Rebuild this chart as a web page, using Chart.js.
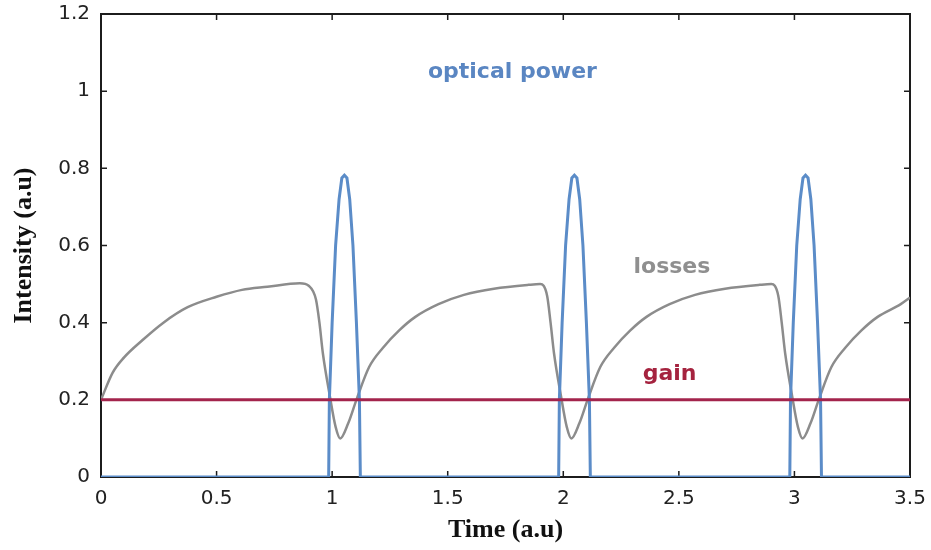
<!DOCTYPE html>
<html>
<head>
<meta charset="utf-8">
<script src="https://cdn.jsdelivr.net/npm/chart.js@4/dist/chart.umd.min.js"></script>
<style>
  html, body { margin: 0; padding: 0; background: #fff; }
  #wrap { width: 931px; height: 550px; }
</style>
</head>
<body>
<div id="wrap"><canvas id="pulses" width="931" height="550"></canvas></div>
<script>
// axis ticks
var timeTicks = [0, 0.5, 1, 1.5, 2, 2.5, 3, 3.5];
var intensityTicks = [0, 0.2, 0.4, 0.6, 0.8, 1, 1.2];

// saturable losses
var lossTime = [0, 0.05, 0.1, 0.18, 0.27, 0.375, 0.5, 0.61, 0.72, 0.86, 0.9, 0.93, 0.945, 0.96, 0.99, 1.015, 1.035, 1.07, 1.105,
    1.16, 1.22, 1.29, 1.36, 1.46, 1.57, 1.7, 1.85, 1.9, 1.93, 1.945, 1.96, 1.99, 2.015, 2.035, 2.07, 2.105,
    2.16, 2.22, 2.29, 2.36, 2.46, 2.57, 2.7, 2.85, 2.9, 2.93, 2.945, 2.96, 2.99, 3.015, 3.035, 3.07, 3.105,
    3.16, 3.22, 3.29, 3.36, 3.46, 3.5];
var lossValues = [0.2, 0.27, 0.31, 0.355, 0.4, 0.44, 0.467, 0.485, 0.493, 0.502, 0.495, 0.46, 0.4, 0.32, 0.21, 0.13, 0.1, 0.14, 0.2,
    0.285, 0.335, 0.38, 0.415, 0.448, 0.472, 0.488, 0.498, 0.5, 0.47, 0.4, 0.32, 0.21, 0.13, 0.1, 0.14, 0.2,
    0.285, 0.335, 0.38, 0.415, 0.448, 0.472, 0.488, 0.498, 0.5, 0.47, 0.4, 0.32, 0.21, 0.13, 0.1, 0.14, 0.2,
    0.285, 0.335, 0.38, 0.415, 0.448, 0.465];

// optical power, three pulses
var powerTime = [0,
    0.985, 0.988, 1.0, 1.015, 1.03, 1.042, 1.053, 1.064, 1.076, 1.09, 1.105, 1.118, 1.122,
    1.98, 1.983, 1.995, 2.01, 2.025, 2.037, 2.048, 2.059, 2.071, 2.085, 2.1, 2.113, 2.117,
    2.98, 2.983, 2.995, 3.01, 3.025, 3.037, 3.048, 3.059, 3.071, 3.085, 3.1, 3.113, 3.117,
    3.5];
var powerValues = [0,
    0, 0.2, 0.4, 0.6, 0.72, 0.775, 0.782, 0.775, 0.72, 0.6, 0.4, 0.2, 0,
    0, 0.2, 0.4, 0.6, 0.72, 0.775, 0.782, 0.775, 0.72, 0.6, 0.4, 0.2, 0,
    0, 0.2, 0.4, 0.6, 0.72, 0.775, 0.782, 0.775, 0.72, 0.6, 0.4, 0.2, 0,
    0];

// gain
var gainTime = [0, 3.5];
var gainValues = [0.2, 0.2];

function toPoints(xs, ys) {
    return xs.map(function (x, i) { return { x: x, y: ys[i] }; });
}

var BLUE = '#5b8cc8';
var GREY = '#8c8c8c';
var RED = '#a3244c';

// box around the plot with inward ticks on all four sides
var frame = {
    id: 'frame',
    beforeDatasetsDraw: function (chart) {
        var a = chart.chartArea, ctx = chart.ctx;
        var xs = chart.scales.x, ys = chart.scales.y;
        ctx.save();
        ctx.strokeStyle = '#1c1c1c';
        ctx.lineWidth = 2;
        ctx.strokeRect(a.left, a.top, a.right - a.left, a.bottom - a.top);
        ctx.lineWidth = 1.5;
        ctx.beginPath();
        timeTicks.forEach(function (t) {
            var px = xs.getPixelForValue(t);
            ctx.moveTo(px, a.bottom); ctx.lineTo(px, a.bottom - 6);
            ctx.moveTo(px, a.top); ctx.lineTo(px, a.top + 6);
        });
        intensityTicks.forEach(function (v) {
            var py = ys.getPixelForValue(v);
            ctx.moveTo(a.left, py); ctx.lineTo(a.left + 6, py);
            ctx.moveTo(a.right, py); ctx.lineTo(a.right - 6, py);
        });
        ctx.stroke();
        ctx.restore();
    },
    afterDatasetsDraw: function (chart) {
        var ctx = chart.ctx;
        var xs = chart.scales.x, ys = chart.scales.y;
        var notes = [
            { text: 'optical power', x: 1.78, y: 1.05, color: '#5a86c2' },
            { text: 'losses', x: 2.47, y: 0.544, color: '#8f8f8f' },
            { text: 'gain', x: 2.46, y: 0.265, color: '#a5233f' }
        ];
        ctx.save();
        ctx.font = 'bold 22px "DejaVu Sans"';
        ctx.textAlign = 'center';
        ctx.textBaseline = 'middle';
        notes.forEach(function (n) {
            ctx.fillStyle = n.color;
            ctx.fillText(n.text, xs.getPixelForValue(n.x), ys.getPixelForValue(n.y));
        });
        ctx.restore();
    }
};

function plainLabel(v) { return String(v); }

var chart = new Chart(document.getElementById('pulses'), {
    type: 'line',
    data: {
        datasets: [{
            label: 'gain',
            data: toPoints(gainTime, gainValues),
            borderColor: RED,
            borderWidth: 3,
            pointRadius: 0
        }, {
            label: 'optical power',
            data: toPoints(powerTime, powerValues),
            borderColor: BLUE,
            borderWidth: 3,
            pointRadius: 0,
            tension: 0
        }, {
            label: 'losses',
            data: toPoints(lossTime, lossValues),
            borderColor: GREY,
            borderWidth: 2.5,
            pointRadius: 0,
            cubicInterpolationMode: 'monotone'
        }]
    },
    options: {
        responsive: false,
        animation: false,
        layout: { padding: { top: 14, right: 21, left: 0, bottom: 0 } },
        plugins: {
            legend: { display: false },
            tooltip: { enabled: false }
        },
        scales: {
            x: {
                type: 'linear',
                min: 0,
                max: 3.5,
                afterBuildTicks: function (s) { s.ticks = timeTicks.map(function (v) { return { value: v }; }); },
                afterFit: function (s) {
                    s.height = 73;
                    s.paddingLeft = 0;
                    s.paddingRight = 0;
                },
                grid: { display: false, drawTicks: false },
                border: { display: false },
                ticks: {
                    padding: 10,
                    color: '#222',
                    font: { family: 'DejaVu Sans', size: 20 },
                    callback: plainLabel
                },
                title: {
                    display: true,
                    text: 'Time (a.u)',
                    color: '#111',
                    font: { family: 'Liberation Serif', size: 26, weight: 'bold' },
                    padding: { top: 0, bottom: 4 }
                }
            },
            y: {
                min: 0,
                max: 1.2,
                afterBuildTicks: function (s) { s.ticks = intensityTicks.map(function (v) { return { value: v }; }); },
                afterFit: function (s) {
                    s.width = 101;
                    s.paddingTop = 0;
                    s.paddingBottom = 0;
                },
                grid: { display: false, drawTicks: false },
                border: { display: false },
                ticks: {
                    padding: 11,
                    color: '#222',
                    font: { family: 'DejaVu Sans', size: 20 },
                    callback: plainLabel
                },
                title: {
                    display: true,
                    text: 'Intensity (a.u)',
                    color: '#111',
                    font: { family: 'Liberation Serif', size: 26, weight: 'bold' },
                    padding: { top: 9, bottom: 0 }
                }
            }
        }
    },
    plugins: [frame]
});
</script>
</body>
</html>
